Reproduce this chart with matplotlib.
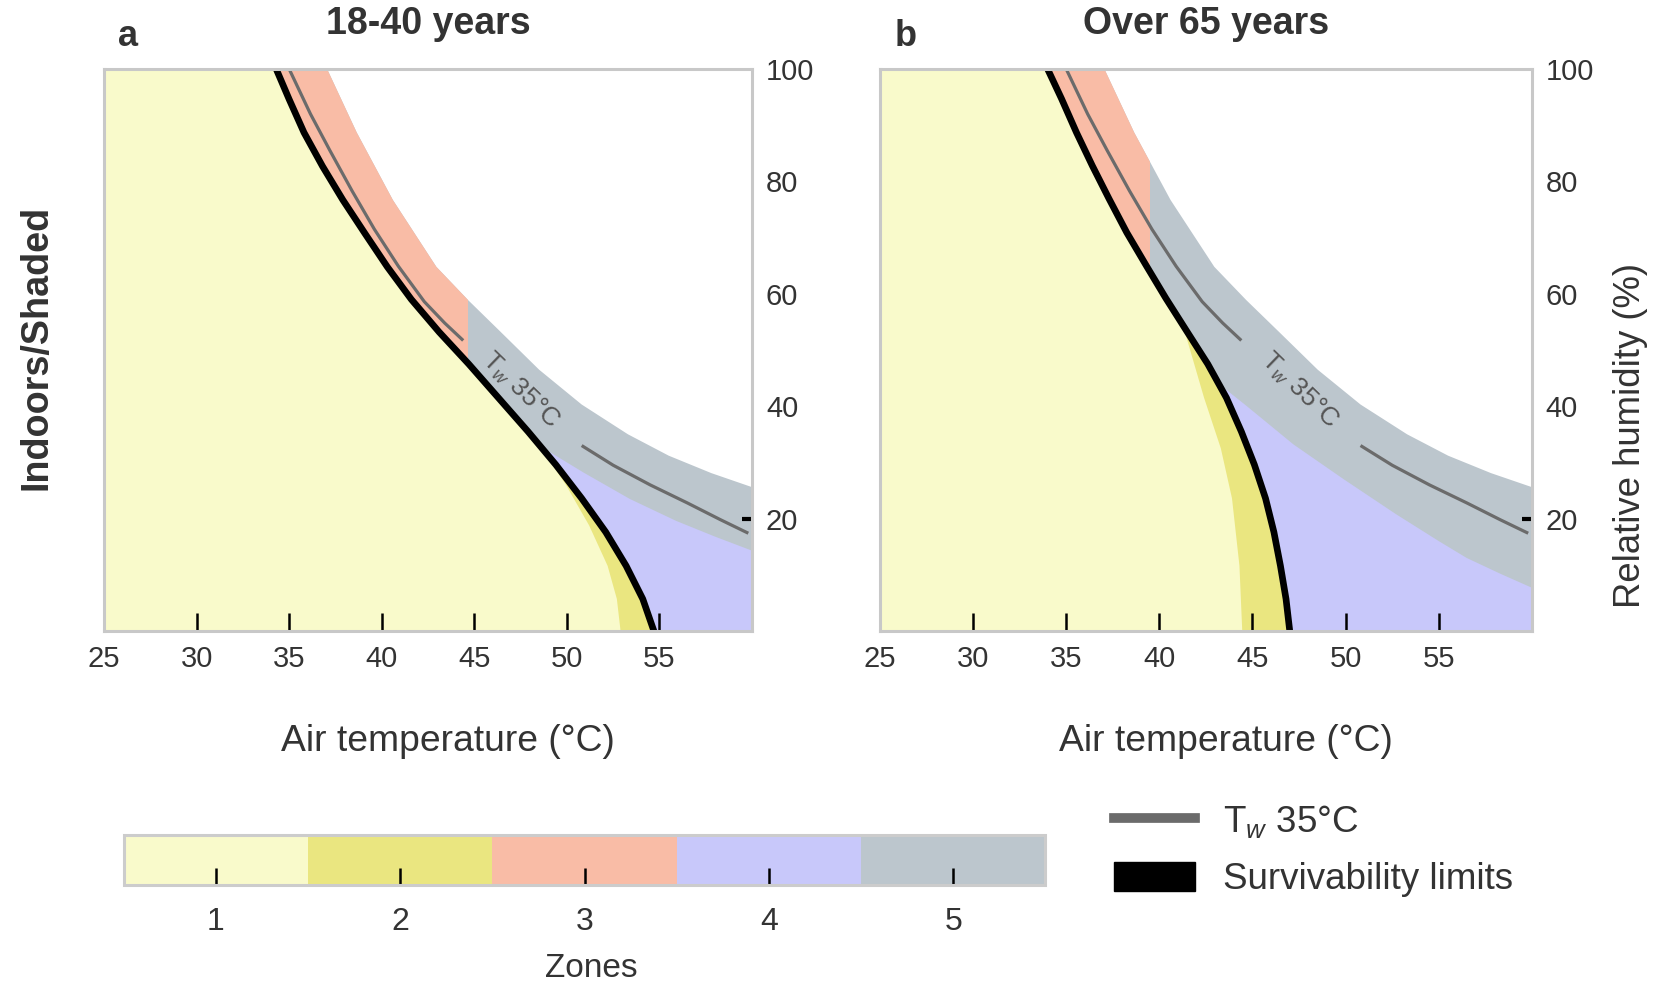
import matplotlib
matplotlib.use('Agg')
import matplotlib.pyplot as plt
import numpy as np
from matplotlib.colors import ListedColormap, BoundaryNorm
from matplotlib.cm import ScalarMappable
from matplotlib.lines import Line2D
from matplotlib.patches import Patch, Rectangle

plt.rcParams['font.family'] = ['Liberation Sans', 'DejaVu Sans']
plt.rcParams['mathtext.fontset'] = 'custom'
plt.rcParams['mathtext.rm'] = 'Liberation Sans'
plt.rcParams['mathtext.it'] = 'Liberation Sans:italic'

# zone colours 1..5
zone_colors = ['#f9facb', '#eae680', '#f9bca6', '#c8c8fa', '#bcc6cd']
zone_labels = [1, 2, 3, 4, 5]
tw_color = '#6b6b6b'
text_dark = '#333333'

# wet-bulb 35 degC isoline (two pieces, gap left for the label)
tw_upper_t = [35.0, 36.15, 37.2, 38.4, 39.6, 40.9, 42.3, 43.4, 44.4]
tw_upper_rh = [100.0, 92.0, 85.5, 78.3, 71.5, 64.9, 58.6, 54.8, 51.7]
tw_lower_t = [50.8, 52.5, 54.5, 56.5, 58.3, 59.8]
tw_lower_rh = [33.0, 29.5, 26.0, 22.8, 19.8, 17.4]

# outer edge of the uncompensable band (same for both age groups)
band_top_t = [37.05, 38.65, 40.6, 42.95, 44.66, 46.4, 48.5, 50.8, 53.3, 55.5, 57.8, 60.0]
band_top_rh = [100.0, 88.7, 76.7, 64.8, 58.9, 53.3, 46.5, 40.3, 35.0, 31.2, 28.1, 25.6]

# 18-40 years
young_limit_t = [34.3, 35.0, 35.8, 36.8, 37.9, 39.1, 40.3, 41.6, 43.1, 44.7, 46.3,
                 47.9, 49.4, 50.8, 52.1, 53.2, 54.1, 54.7]
young_limit_rh = [100.0, 94.6, 88.7, 82.7, 76.7, 70.7, 64.8, 59.0, 53.2, 47.5, 41.5,
                  35.5, 29.6, 23.6, 17.6, 11.6, 5.7, 0.0]
young_zone2_t = [48.3, 49.95, 51.2, 52.2, 52.7, 52.9]
young_zone2_rh = [34.0, 26.0, 18.8, 11.6, 5.7, 0.0]
young_zone4_t = [48.5, 50.9, 53.4, 55.9, 58.0, 60.0]
young_zone4_rh = [33.0, 28.2, 23.5, 19.6, 16.8, 14.3]
young_split = 44.66

# over 65 years
old_limit_t = [34.0, 34.75, 35.55, 36.4, 37.3, 38.25, 39.3, 40.35, 41.5, 42.6, 43.6,
               44.4, 45.1, 45.7, 46.15, 46.5, 46.8, 47.0]
old_limit_rh = [100.0, 94.7, 88.7, 82.8, 76.9, 70.9, 65.0, 59.2, 53.2, 47.5, 41.5,
                35.5, 29.6, 23.6, 17.6, 11.6, 5.7, 0.0]
old_zone2_t = [41.3, 42.4, 43.3, 43.9, 44.3, 44.45]
old_zone2_rh = [54.0, 41.5, 32.5, 23.6, 11.6, 0.0]
old_zone4_t = [43.3, 44.7, 47.2, 49.9, 52.7, 55.0, 56.5, 58.3, 60.0]
old_zone4_rh = [43.7, 40.0, 33.2, 27.0, 20.8, 16.0, 13.0, 10.2, 7.7]
old_split = 39.5

t_ticks = [25, 30, 35, 40, 45, 50, 55]
rh_ticks = [20, 40, 60, 80, 100]
T_MIN, T_MAX = 25, 60


def draw_panel(ax, limit_t, limit_rh, z2_t, z2_rh, z4_t, z4_rh, split):
    lt = np.array(limit_t)
    lr = np.array(limit_rh)

    # zone 1: everything left of the survivability limit
    ax.fill(np.r_[T_MIN, T_MIN, lt], np.r_[0, 100, lr], color=zone_colors[0], lw=0, zorder=1.0)

    # zone 2: sliver just left of the limit
    below = lr <= z2_rh[0]
    ax.fill(np.r_[z2_t, lt[below][::-1]], np.r_[z2_rh, lr[below][::-1]],
            color=zone_colors[1], lw=0, zorder=1.1)

    # band between the limit and the outer edge: zone 5, with zone 3 at lower temperatures
    bx = np.r_[lt, T_MAX, band_top_t[::-1]]
    by = np.r_[lr, 0, band_top_rh[::-1]]
    ax.fill(bx, by, color=zone_colors[4], lw=0, zorder=1.1)
    hot = ax.fill(bx, by, color=zone_colors[2], lw=0, zorder=1.2)[0]
    hot.set_clip_path(Rectangle((T_MIN, 0), split - T_MIN, 100, transform=ax.transData))

    # zone 4: right of the limit, under the band
    under = lr < z4_rh[0]
    ax.fill(np.r_[lt[under], T_MAX, z4_t[::-1]], np.r_[lr[under], 0, z4_rh[::-1]],
            color=zone_colors[3], lw=0, zorder=1.3)

    ax.plot(tw_upper_t, tw_upper_rh, color=tw_color, lw=2.3, zorder=3,
            solid_capstyle='butt', solid_joinstyle='round')
    ax.plot(tw_lower_t, tw_lower_rh, color=tw_color, lw=2.3, zorder=3,
            solid_capstyle='butt', solid_joinstyle='round')
    ax.text(47.5, 42.8, r'T$_w$ 35°C', rotation=-44, rotation_mode='anchor',
            ha='center', va='center', fontsize=19, color='#555555', zorder=4)
    ax.plot(lt, lr, color='black', lw=4.8, zorder=4, solid_capstyle='butt', solid_joinstyle='round')

    ax.set_xlim(T_MIN, T_MAX)
    ax.set_ylim(0, 100)
    ax.set_axisbelow(False)
    for sp in ax.spines.values():
        sp.set_color('#c8c8c8')
        sp.set_linewidth(2.2)
        sp.set_zorder(6)

    ax.set_xticks(t_ticks)
    ax.tick_params(axis='x', direction='in', length=13, width=1.8, pad=10,
                   labelsize=21, color='black', labelcolor=text_dark)
    ax.xaxis.get_major_ticks()[0].tick1line.set_visible(False)

    ax.yaxis.tick_right()
    ax.set_yticks(rh_ticks)
    ax.tick_params(axis='y', direction='in', length=7, width=3, pad=10,
                   labelsize=21, color='black', labelcolor=text_dark)
    for tick in ax.yaxis.get_major_ticks()[1:]:
        tick.tick2line.set_visible(False)


fig = plt.figure(figsize=(16.59, 9.90), dpi=100)
ax_a = fig.add_axes([0.0627, 0.3626, 0.3906, 0.5677])
ax_b = fig.add_axes([0.5304, 0.3626, 0.3930, 0.5677])

draw_panel(ax_a, young_limit_t, young_limit_rh, young_zone2_t, young_zone2_rh,
           young_zone4_t, young_zone4_rh, young_split)
draw_panel(ax_b, old_limit_t, old_limit_rh, old_zone2_t, old_zone2_rh,
           old_zone4_t, old_zone4_rh, old_split)

fig.text(0.077, 0.963, 'a', fontsize=26, fontweight='bold', color=text_dark, ha='center', va='center')
fig.text(0.546, 0.963, 'b', fontsize=26, fontweight='bold', color=text_dark, ha='center', va='center')
fig.text(0.258, 0.976, '18-40 years', fontsize=27, fontweight='bold', color=text_dark, ha='center', va='center')
fig.text(0.727, 0.976, 'Over 65 years', fontsize=27, fontweight='bold', color=text_dark, ha='center', va='center')
fig.text(0.0223, 0.649, 'Indoors/Shaded', fontsize=27.2, fontweight='bold', color=text_dark,
         rotation=90, ha='center', va='center')
fig.text(0.983, 0.56, 'Relative humidity (%)', fontsize=26.3, color=text_dark,
         rotation=90, ha='center', va='center')
fig.text(0.270, 0.2515, 'Air temperature (°C)', fontsize=26.8, color=text_dark, ha='center', va='center')
fig.text(0.739, 0.2515, 'Air temperature (°C)', fontsize=26.8, color=text_dark, ha='center', va='center')

# zone colour key
cax = fig.add_axes([0.0746, 0.1065, 0.5555, 0.0503])
cmap = ListedColormap(zone_colors)
norm = BoundaryNorm(np.arange(0.5, 6.0, 1.0), cmap.N)
cb = fig.colorbar(ScalarMappable(norm=norm, cmap=cmap), cax=cax, orientation='horizontal', ticks=zone_labels)
cb.minorticks_off()
cb.outline.set_edgecolor('#cccccc')
cb.outline.set_linewidth(2.2)
cax.tick_params(which='minor', length=0)
cax.tick_params(which='major', direction='in', length=12, width=1.8, pad=16, labelsize=23,
                color='black', labelcolor=text_dark)
fig.text(0.3565, 0.022, 'Zones', fontsize=24, color=text_dark, ha='center', va='center')

handles = [Line2D([], [], color=tw_color, lw=7), Patch(facecolor='black', edgecolor='black')]
fig.legend(handles, [r'T$_w$ 35°C', 'Survivability limits'], loc='center left',
           bbox_to_anchor=(0.6715, 0.1414), frameon=False, fontsize=26.5,
           handlelength=2.2, handleheight=0.82, handletextpad=0.75,
           labelspacing=0.62, borderpad=0, borderaxespad=0, labelcolor=text_dark)

fig.savefig('out.png', dpi=100)
